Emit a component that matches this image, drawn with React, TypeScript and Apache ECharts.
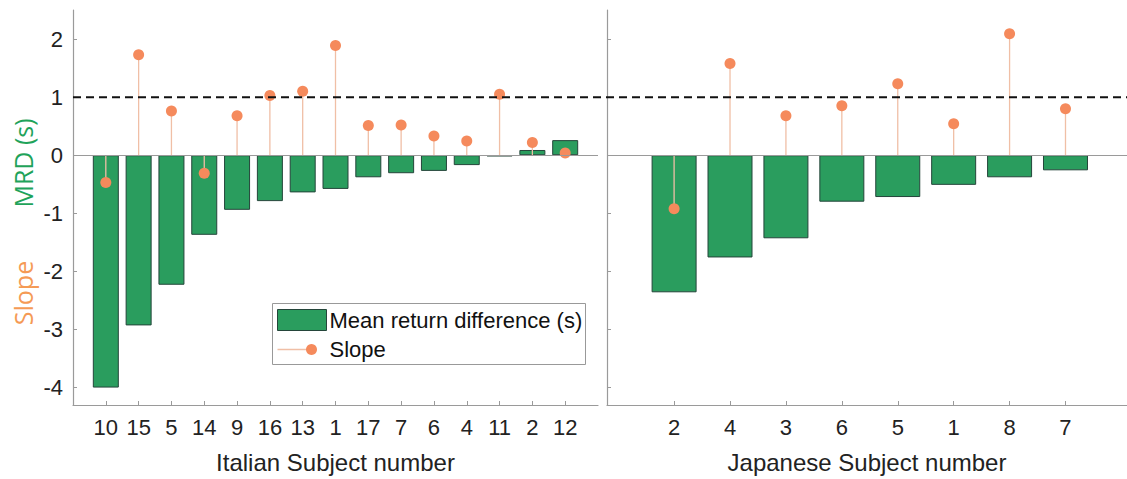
import React, { useEffect, useRef } from "react";
import * as echarts from "echarts";

const italianSubjects = ["10", "15", "5", "14", "9", "16", "13", "1", "17", "7", "6", "4", "11", "2", "12"];
const italianMRD = [-4.0, -2.93, -2.23, -1.37, -0.94, -0.79, -0.64, -0.58, -0.38, -0.31, -0.27, -0.17, -0.02, 0.09, 0.26];
const italianSlope = [-0.47, 1.73, 0.76, -0.31, 0.68, 1.03, 1.1, 1.89, 0.51, 0.52, 0.33, 0.245, 1.05, 0.22, 0.04];
const japaneseSubjects = ["2", "4", "3", "6", "5", "1", "8", "7"];
const japaneseMRD = [-2.36, -1.76, -1.43, -0.8, -0.72, -0.51, -0.38, -0.26];
const japaneseSlope = [-0.92, 1.58, 0.68, 0.85, 1.23, 0.54, 2.09, 0.8];
const yTicks = [-4, -3, -2, -1, 0, 1, 2];
const threshold = 1;

const GREEN = "#2a9d5e";
const ORANGE = "#f58a5c";
const STEM = "#f0bfa6";
const AXIS = "#9a9a9a";
const FONT = "'Liberation Sans', Arial, sans-serif";

export default function App() {
  const ref = useRef<HTMLDivElement>(null);
  useEffect(() => {
    if (!ref.current) return;
    const chart = echarts.init(ref.current, undefined, { renderer: "svg" });

    const itPos = italianSubjects.map((_, i) => i + 1);
    const jpPos = japaneseSubjects.map((_, i) => i + 1.2);
    const itMax = 16;
    const jpMax = 9.3;

    const xAxisFor = (idx: number, pos: number[], names: string[], max: number, title: string) => ({
      type: "value",
      gridIndex: idx,
      min: 0,
      max,
      splitLine: { show: false },
      axisLine: { show: true, onZero: false, lineStyle: { color: AXIS, width: 1.2 } },
      axisTick: { show: true, inside: true, length: 4, customValues: pos, lineStyle: { color: AXIS } },
      axisLabel: {
        customValues: pos,
        color: "#222",
        fontSize: 22,
        fontFamily: FONT,
        margin: 11,
        formatter: (v: number) => {
          const k = pos.findIndex((p) => Math.abs(p - v) < 1e-6);
          return k >= 0 ? names[k] : "";
        },
      },
      name: title,
      nameLocation: "middle",
      nameGap: 45,
      nameTextStyle: { color: "#222", fontSize: 24, fontFamily: FONT },
    });

    const yAxisFor = (idx: number, showLabels: boolean) => ({
      type: "value",
      gridIndex: idx,
      min: -4.3,
      max: 2.5,
      splitLine: { show: false },
      axisLine: { show: true, lineStyle: { color: AXIS, width: 1.2 } },
      axisTick: { show: true, inside: true, length: 4, customValues: yTicks, lineStyle: { color: AXIS } },
      axisLabel: {
        show: showLabels,
        customValues: yTicks,
        color: "#222",
        fontSize: 22,
        fontFamily: FONT,
        margin: 10,
      },
    });

    const stemRender = (params: any, api: any) => {
      const x = api.value(0);
      const y = api.value(1);
      const p0 = api.coord([x, 0]);
      const p1 = api.coord([x, y]);
      return {
        type: "line",
        shape: { x1: p0[0], y1: p0[1], x2: p1[0], y2: p1[1] },
        style: { stroke: STEM, lineWidth: 1.3 },
      };
    };

    const seriesFor = (idx: number, pos: number[], mrd: number[], slope: number[], barWidth: number) => [
      {
        type: "bar",
        xAxisIndex: idx,
        yAxisIndex: idx,
        data: pos.map((p, i) => [p, mrd[i]]),
        barWidth,
        itemStyle: { color: GREEN, borderColor: "#24453a", borderWidth: 1 },
        z: 2,
        markLine: {
          silent: true,
          symbol: "none",
          label: { show: false },
          lineStyle: { color: AXIS, width: 1, type: "solid" },
          data: [{ yAxis: 0 }],
        },
      },
      {
        type: "custom",
        xAxisIndex: idx,
        yAxisIndex: idx,
        renderItem: stemRender,
        data: pos.map((p, i) => [p, slope[i]]),
        encode: { x: 0, y: 1 },
        z: 3,
      },
      {
        type: "scatter",
        xAxisIndex: idx,
        yAxisIndex: idx,
        data: pos.map((p, i) => [p, slope[i]]),
        symbolSize: 11,
        itemStyle: { color: ORANGE, opacity: 1 },
        z: 4,
      },
    ];

    chart.setOption({
      animation: false,
      backgroundColor: "#fff",
      grid: [
        { left: 73, right: 529, top: 10, bottom: 73 },
        { left: 607, right: 0, top: 10, bottom: 73 },
      ],
      xAxis: [
        xAxisFor(0, itPos, italianSubjects, itMax, "Italian Subject number"),
        xAxisFor(1, jpPos, japaneseSubjects, jpMax, "Japanese Subject number"),
      ],
      yAxis: [yAxisFor(0, true), yAxisFor(1, false)],
      series: [
        ...seriesFor(0, itPos, italianMRD, italianSlope, 26),
        ...seriesFor(1, jpPos, japaneseMRD, japaneseSlope, 45),
      ],
      graphic: [
        {
          type: "text",
          x: 23,
          y: 163,
          rotation: Math.PI / 2,
          style: { text: "MRD (s)", fill: "#1fa35a", font: `25px 'Open Sans', sans-serif`, textAlign: "center", textVerticalAlign: "middle" },
        },
        {
          type: "text",
          x: 23,
          y: 293,
          rotation: Math.PI / 2,
          style: { text: "Slope", fill: "#f59a55", font: `25px 'Open Sans', sans-serif`, textAlign: "center", textVerticalAlign: "middle" },
        },
        {
          type: "group",
          left: 272,
          top: 303,
          children: [
            { type: "rect", shape: { x: 0, y: 0, width: 313, height: 61 }, style: { fill: "#fff", stroke: "#999", lineWidth: 1 } },
            { type: "rect", shape: { x: 5, y: 6, width: 49, height: 21 }, style: { fill: GREEN, stroke: "#24453a", lineWidth: 1 } },
            { type: "text", x: 57, y: 17, style: { text: "Mean return difference (s)", fill: "#111", font: `22px ${FONT}`, textVerticalAlign: "middle" } },
            { type: "line", shape: { x1: 5, y1: 46, x2: 38, y2: 46 }, style: { stroke: STEM, lineWidth: 1.3 } },
            { type: "circle", shape: { cx: 39, cy: 46, r: 5.5 }, style: { fill: ORANGE } },
            { type: "text", x: 57, y: 46, style: { text: "Slope", fill: "#111", font: `22px ${FONT}`, textVerticalAlign: "middle" } },
          ],
        },
      ],
    });

    // dashed threshold line across both panels, positioned through the axes' scales
    const start = chart.convertToPixel({ gridIndex: 0 }, [0, threshold]) as number[];
    const end = chart.convertToPixel({ gridIndex: 1 }, [jpMax, threshold]) as number[];
    chart.setOption({
      graphic: [
        {
          id: "threshold",
          type: "line",
          z: 10,
          silent: true,
          shape: { x1: start[0], y1: start[1], x2: end[0], y2: end[1] },
          style: { stroke: "#111", lineWidth: 2, lineDash: [8, 5] },
        },
      ],
    });
    return () => chart.dispose();
  }, []);
  return <div ref={ref} style={{ width: 1127, height: 479, position: "absolute", left: 0, top: 0 }} />;
}
